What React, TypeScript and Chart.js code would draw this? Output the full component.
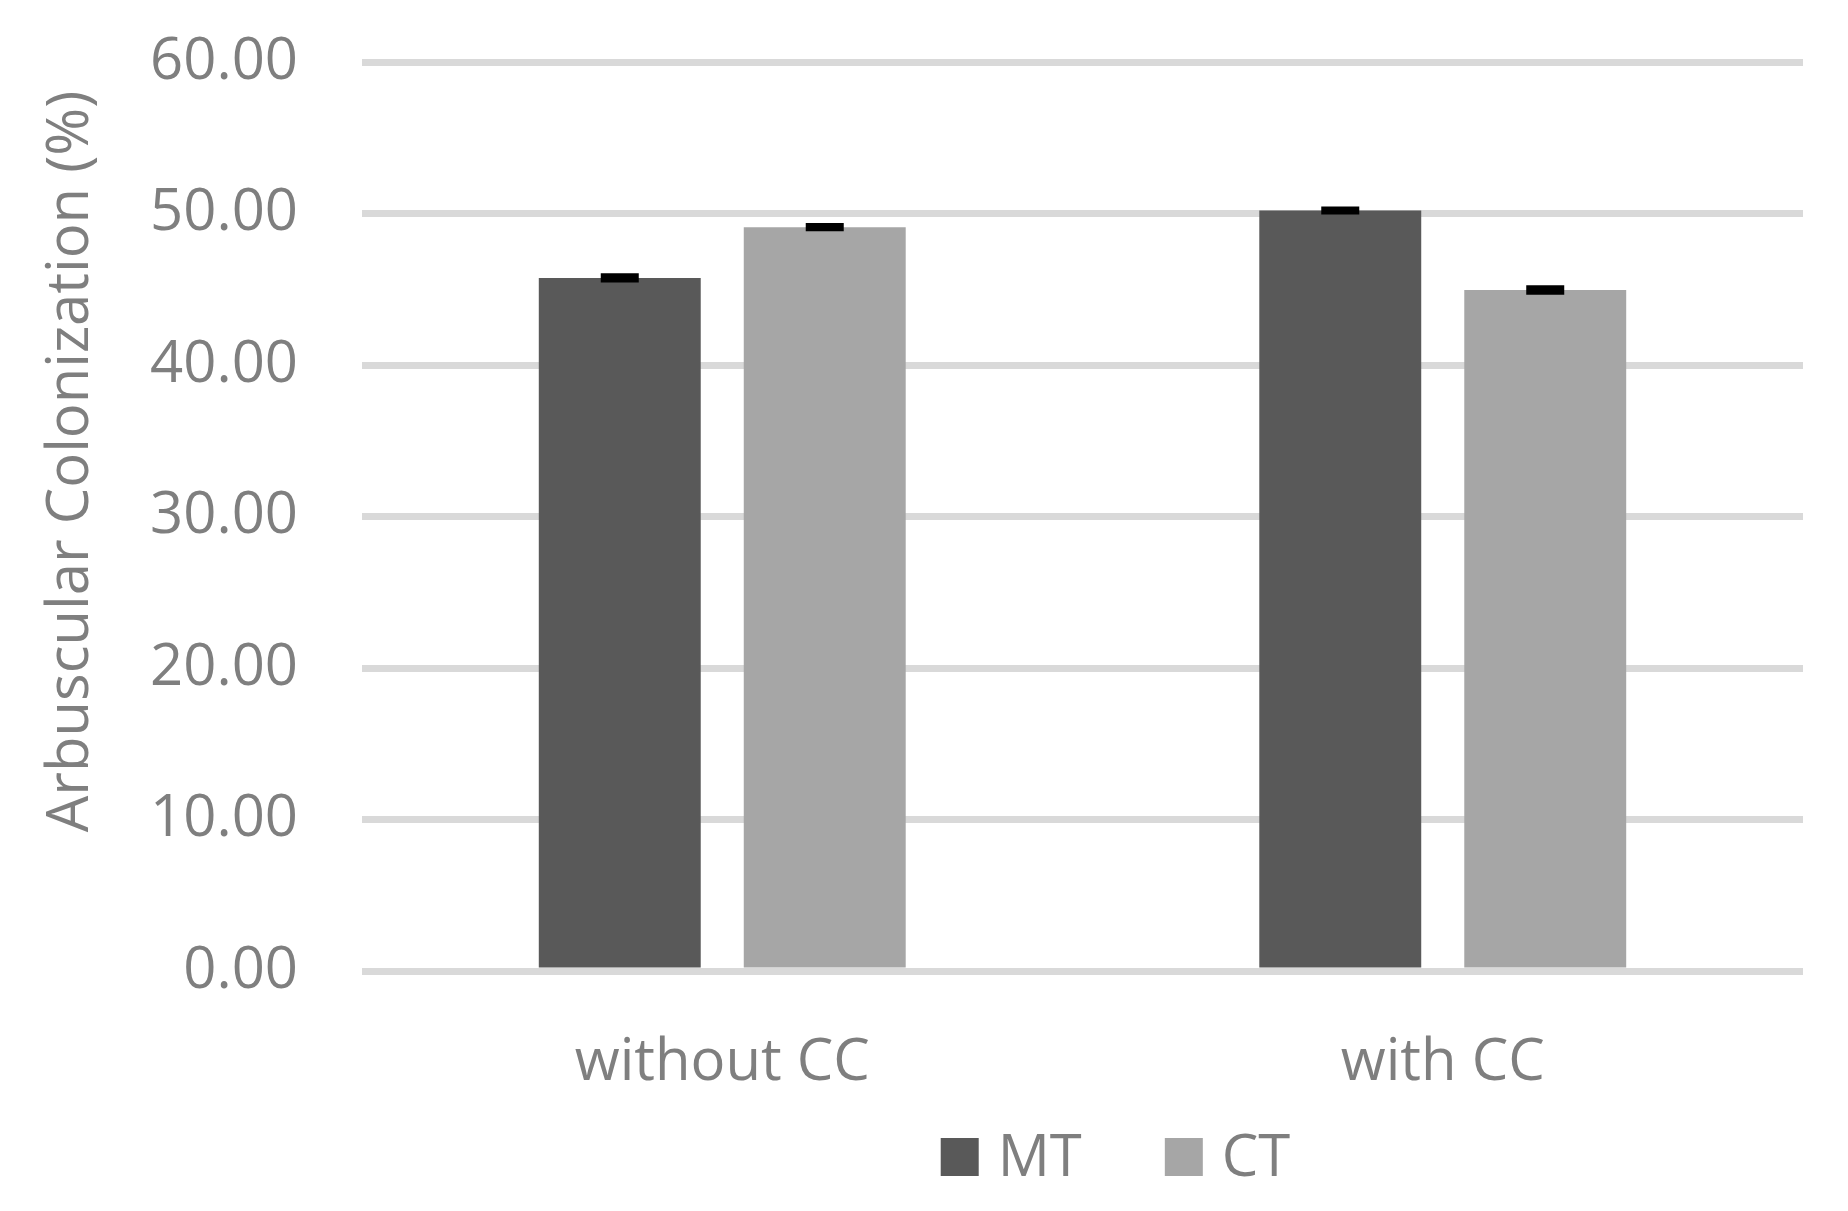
import React, { useEffect, useRef } from "react";
import { Chart, registerables } from "chart.js";

Chart.register(...registerables);

const categories = ["without CC", "with CC"];
const seriesNames = ["MT", "CT"];
const mtValues = [45.75, 50.2];
const ctValues = [49.1, 44.95];
const mtErrors = [0.1, 0.07];
const ctErrors = [0.08, 0.12];
const yTicks = [0, 10, 20, 30, 40, 50, 60];
const yTitle = "Arbuscular Colonization (%)";

const FONT = "'Open Sans', 'Noto Sans', sans-serif";
const TEXT_COLOR = "#7f7f7f";
const COLORS = ["#595959", "#a6a6a6"];

const errorBarPlugin = {
  id: "errorBars",
  afterDatasetsDraw(chart: any) {
    const ctx = chart.ctx;
    const yScale = chart.scales.y;
    const errs = [mtErrors, ctErrors];
    chart.data.datasets.forEach((ds: any, di: number) => {
      const meta = chart.getDatasetMeta(di);
      meta.data.forEach((bar: any, i: number) => {
        const v = ds.data[i];
        const e = errs[di][i];
        const yTop = yScale.getPixelForValue(v + e);
        const yBot = yScale.getPixelForValue(v - e);
        const half = 19;
        ctx.save();
        ctx.strokeStyle = "#000000";
        ctx.lineWidth = 6;
        ctx.beginPath();
        ctx.moveTo(bar.x - half, yTop);
        ctx.lineTo(bar.x + half, yTop);
        ctx.moveTo(bar.x - half, yBot);
        ctx.lineTo(bar.x + half, yBot);
        ctx.moveTo(bar.x, yTop);
        ctx.lineTo(bar.x, yBot);
        ctx.stroke();
        ctx.restore();
      });
    });
  },
};

const titleLegendPlugin = {
  id: "titleLegend",
  afterDraw(chart: any) {
    const ctx = chart.ctx;
    const area = chart.chartArea;
    ctx.save();
    // y-axis title
    ctx.font = `58px ${FONT}`;
    ctx.fillStyle = TEXT_COLOR;
    ctx.translate(88, (area.top + area.bottom) / 2 - 55);
    ctx.rotate(-Math.PI / 2);
    ctx.textAlign = "center";
    ctx.textBaseline = "alphabetic";
    ctx.fillText(yTitle, 0, 0);
    ctx.restore();

    // legend
    ctx.save();
    ctx.font = `58px ${FONT}`;
    const box = 38;
    const gapText = 19;
    const gapItem = 83;
    const widths = seriesNames.map((n) => ctx.measureText(n).width);
    const total =
      widths.reduce((a, w) => a + box + gapText + w, 0) + gapItem * (seriesNames.length - 1);
    let x = (area.left + area.right) / 2 + 33 - total / 2;
    const baseline = 1176;
    seriesNames.forEach((n, i) => {
      ctx.fillStyle = COLORS[i];
      ctx.fillRect(x, 1138, box, box);
      ctx.fillStyle = TEXT_COLOR;
      ctx.textAlign = "left";
      ctx.textBaseline = "alphabetic";
      ctx.fillText(n, x + box + gapText, baseline);
      x += box + gapText + widths[i] + gapItem;
    });
    ctx.restore();
  },
};

export default function App() {
  const canvasRef = useRef<HTMLCanvasElement | null>(null);

  useEffect(() => {
    document.body.style.margin = "0";
    const canvas = canvasRef.current;
    if (!canvas) return;
    const chart = new Chart(canvas, {
      type: "bar",
      data: {
        labels: categories,
        datasets: [
          {
            label: seriesNames[0],
            data: mtValues,
            backgroundColor: COLORS[0],
            categoryPercentage: 0.569,
            barPercentage: 0.79,
          },
          {
            label: seriesNames[1],
            data: ctValues,
            backgroundColor: COLORS[1],
            categoryPercentage: 0.569,
            barPercentage: 0.79,
          },
        ],
      },
      options: {
        responsive: false,
        animation: false,
        devicePixelRatio: 1,
        layout: { padding: { left: 0, right: 45, top: 62, bottom: 0 } },
        plugins: {
          legend: { display: false },
          tooltip: { enabled: false },
        },
        scales: {
          x: {
            grid: { display: false },
            border: { display: false },
            ticks: {
              color: TEXT_COLOR,
              font: { family: FONT, size: 58 },
              padding: 50,
            },
            afterFit: (scale: any) => {
              scale.height = 240;
            },
          },
          y: {
            min: 0,
            max: 60,
            afterBuildTicks: (scale: any) => {
              scale.ticks = yTicks.map((v) => ({ value: v }));
            },
            grid: { color: "#d9d9d9", lineWidth: 7, drawTicks: false },
            border: { display: false },
            ticks: {
              color: TEXT_COLOR,
              font: { family: FONT, size: 58 },
              padding: 64,
              callback: (v: any) => Number(v).toFixed(2),
            },
            afterFit: (scale: any) => {
              scale.width = 362;
              scale.paddingTop = 35;
              scale.paddingBottom = 35;
            },
          },
        },
      },
      plugins: [errorBarPlugin, titleLegendPlugin],
    });
    return () => chart.destroy();
  }, []);

  return (
    <div style={{ width: 1848, height: 1211, background: "#ffffff" }}>
      <canvas ref={canvasRef} width={1848} height={1211} style={{ display: "block" }} />
    </div>
  );
}
